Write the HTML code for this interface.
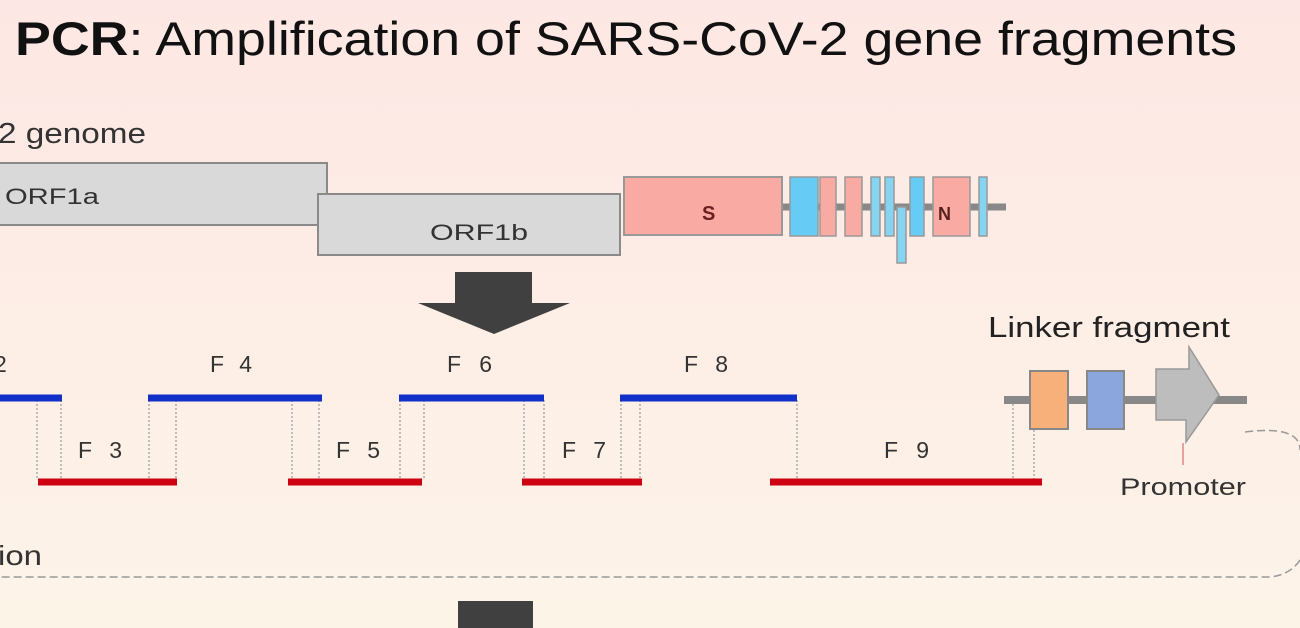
<!DOCTYPE html>
<html><head><style>
html,body{margin:0;padding:0;width:1300px;height:628px;overflow:hidden;}
body{background:linear-gradient(#fde8e5,#fdf4e8);}
svg{display:block;font-family:"Liberation Sans",sans-serif;}
</style></head><body>
<svg width="1300" height="628" viewBox="0 0 1300 628">
<defs><linearGradient id="bg" x1="0" y1="0" x2="0" y2="1"><stop offset="0" stop-color="#fde7e4"/><stop offset="1" stop-color="#fdf4e8"/></linearGradient></defs>
<rect width="1300" height="628" fill="url(#bg)"/>
<text x="15" y="55" font-size="47" fill="#111" textLength="1222" lengthAdjust="spacingAndGlyphs"><tspan font-weight="bold">PCR</tspan>: Amplification of SARS-CoV-2 gene fragments</text>
<text x="-2" y="143" font-size="29" fill="#333" textLength="148" lengthAdjust="spacingAndGlyphs">2 genome</text>
<rect x="-5" y="163" width="332" height="62" fill="#d9d9d9" stroke="#8a8a8a" stroke-width="2"/>
<text x="5" y="204" font-size="22" fill="#333" textLength="94" lengthAdjust="spacingAndGlyphs">ORF1a</text>
<rect x="318" y="194" width="302" height="61" fill="#d9d9d9" stroke="#8a8a8a" stroke-width="2"/>
<text x="430" y="240" font-size="22" fill="#333" textLength="98" lengthAdjust="spacingAndGlyphs">ORF1b</text>
<line x1="780" y1="207" x2="1006" y2="207" stroke="#888" stroke-width="7"/>
<rect x="624" y="177" width="158" height="58" fill="#f8aaa3" stroke="#999" stroke-width="2"/>
<text x="702" y="220" font-size="20" font-weight="bold" fill="#6a2020">S</text>
<g stroke="#999" stroke-width="1.5">
<rect x="790" y="177" width="28" height="59" fill="#66ccf5"/>
<rect x="820" y="177" width="16" height="59" fill="#f8aaa3"/>
<rect x="845" y="177" width="17" height="59" fill="#f8aaa3"/>
<rect x="871" y="177" width="9" height="59" fill="#85d4f2"/>
<rect x="885" y="177" width="9" height="59" fill="#85d4f2"/>
<rect x="897" y="207" width="9" height="56" fill="#85d4f2"/>
<rect x="910" y="177" width="14" height="59" fill="#66ccf5"/>
<rect x="933" y="177" width="37" height="59" fill="#f8aaa3"/>
<rect x="979" y="177" width="8" height="59" fill="#85d4f2"/>
</g>
<text x="938" y="220" font-size="18" font-weight="bold" fill="#5a2020">N</text>
<rect x="455" y="272" width="77" height="32" fill="#404040"/>
<polygon points="418,303 570,303 494,334" fill="#404040"/>
<g font-size="23" fill="#333">
<text x="-6" y="372">2</text>
<text x="210" y="372" textLength="42" lengthAdjust="spacing">F 4</text>
<text x="447" y="372" textLength="45" lengthAdjust="spacing">F 6</text>
<text x="684" y="372" textLength="44" lengthAdjust="spacing">F 8</text>
<text x="78" y="458" textLength="44" lengthAdjust="spacing">F 3</text>
<text x="336" y="458" textLength="44" lengthAdjust="spacing">F 5</text>
<text x="562" y="458" textLength="44" lengthAdjust="spacing">F 7</text>
<text x="884" y="458" textLength="45" lengthAdjust="spacing">F 9</text>
</g>
<g stroke="#999" stroke-width="1.2" stroke-dasharray="2,2">
<line x1="37" y1="400" x2="37" y2="480"/><line x1="61" y1="400" x2="61" y2="480"/>
<line x1="149" y1="400" x2="149" y2="480"/><line x1="176" y1="400" x2="176" y2="480"/>
<line x1="292" y1="400" x2="292" y2="480"/><line x1="319" y1="400" x2="319" y2="480"/>
<line x1="400" y1="400" x2="400" y2="480"/><line x1="424" y1="400" x2="424" y2="480"/>
<line x1="524" y1="400" x2="524" y2="480"/><line x1="544" y1="400" x2="544" y2="480"/>
<line x1="621" y1="400" x2="621" y2="480"/><line x1="640" y1="400" x2="640" y2="480"/>
<line x1="797" y1="400" x2="797" y2="480"/>
<line x1="1013" y1="400" x2="1013" y2="480"/><line x1="1034" y1="430" x2="1034" y2="480"/>
</g>
<g stroke="#1030c8" stroke-width="7">
<line x1="-5" y1="398" x2="62" y2="398"/><line x1="148" y1="398" x2="322" y2="398"/>
<line x1="399" y1="398" x2="544" y2="398"/><line x1="620" y1="398" x2="797" y2="398"/>
</g>
<g stroke="#cc0010" stroke-width="7">
<line x1="38" y1="482" x2="177" y2="482"/><line x1="288" y1="482" x2="422" y2="482"/>
<line x1="522" y1="482" x2="642" y2="482"/><line x1="770" y1="482" x2="1042" y2="482"/>
</g>
<text x="988" y="337" font-size="29" fill="#222" textLength="242" lengthAdjust="spacingAndGlyphs">Linker fragment</text>
<line x1="1004" y1="400" x2="1247" y2="400" stroke="#888" stroke-width="8"/>
<rect x="1030" y="371" width="38" height="58" fill="#f8b07a" stroke="#888" stroke-width="2"/>
<rect x="1087" y="371" width="37" height="58" fill="#8aa6dc" stroke="#888" stroke-width="2"/>
<polygon points="1156,369 1189,369 1189,347 1219,395 1186,442 1186,420 1156,420" fill="#bdbdbd" stroke="#999" stroke-width="1.5"/>
<line x1="1183" y1="443" x2="1183" y2="465" stroke="#d88" stroke-width="1.5"/>
<text x="1120" y="495" font-size="24" fill="#333" textLength="126" lengthAdjust="spacingAndGlyphs">Promoter</text>
<path d="M1245,432 Q1300,425 1300,450 M1300,560 Q1290,575 1270,577 L0,577" fill="none" stroke="#999" stroke-width="1.5" stroke-dasharray="8,4"/>
<text x="-2" y="565" font-size="28" fill="#333" textLength="44" lengthAdjust="spacingAndGlyphs">ion</text>
<rect x="458" y="601" width="75" height="27" fill="#404040"/>
</svg>
</body></html>
